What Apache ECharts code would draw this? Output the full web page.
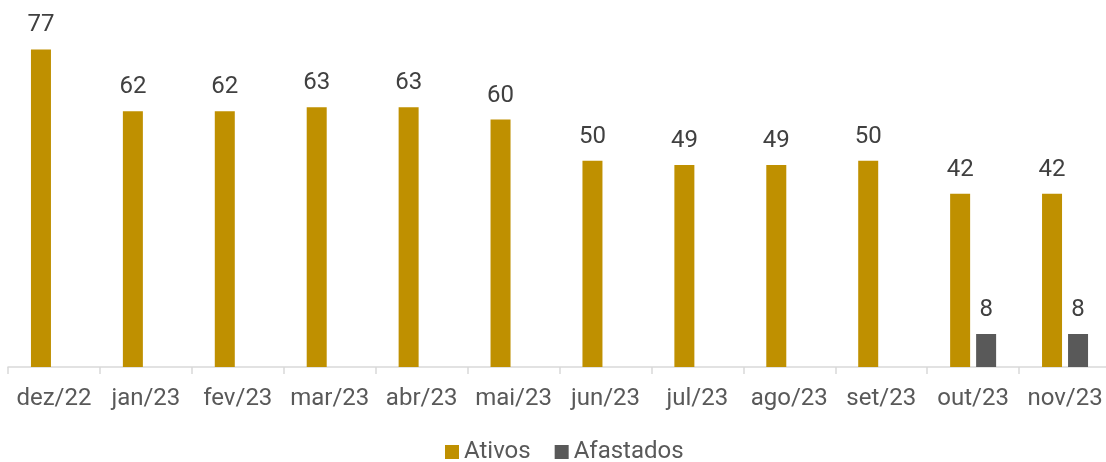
<!DOCTYPE html>
<html>
<head>
<meta charset="utf-8">
<script src="https://cdn.jsdelivr.net/npm/echarts@6/dist/echarts.min.js"></script>
<style>
  html, body { margin: 0; padding: 0; background: #fff; overflow: hidden; }
  #chart { width: 1112px; height: 462px; }
</style>
</head>
<body>
<div id="chart"></div>
<script>
// categories and values
var months = ["dez/22", "jan/23", "fev/23", "mar/23", "abr/23", "mai/23",
              "jun/23", "jul/23", "ago/23", "set/23", "out/23", "nov/23"];
var ativos = [77, 62, 62, 63, 63, 60, 50, 49, 49, 50, 42, 42];
var afastados = [null, null, null, null, null, null, null, null, null, null, 8, 8];

var font = "Roboto";

var chart = echarts.init(document.getElementById('chart'));

var labelStyle = {
    show: true,
    position: 'top',
    distance: 12,
    color: "#404040",
    fontFamily: font,
    fontSize: 24
};

chart.setOption({
    animation: false,
    grid: {
        left: 8,
        width: 1103,
        top: 37,
        bottom: 95
    },
    legend: {
        top: 440,
        left: 445,
        padding: 0,
        itemWidth: 14,
        itemHeight: 14,
        itemGap: 24,
        icon: 'rect',
        textStyle: { fontFamily: font, fontSize: 24, color: "#595959" },
        data: ["Ativos", "Afastados"]
    },
    xAxis: {
        type: 'category',
        data: months,
        axisLine: { lineStyle: { color: "#d9d9d9", width: 1.5 } },
        axisTick: { show: true, length: 7, lineStyle: { color: "#d9d9d9", width: 1.5 } },
        axisLabel: { fontFamily: font, fontSize: 24, color: "#595959", margin: 20, interval: 0 }
    },
    yAxis: {
        type: 'value',
        min: 0,
        max: 80,
        show: false
    },
    series: [
        {
            name: "Ativos",
            type: 'bar',
            data: ativos,
            barWidth: 20,
            barGap: '30%',
            itemStyle: { color: "#BF9000" },
            label: labelStyle
        },
        {
            name: "Afastados",
            type: 'bar',
            data: afastados,
            barWidth: 20,
            itemStyle: { color: "#595959" },
            label: labelStyle
        }
    ]
});

window.addEventListener('resize', function () {
    chart.resize();
});
</script>
</body>
</html>
